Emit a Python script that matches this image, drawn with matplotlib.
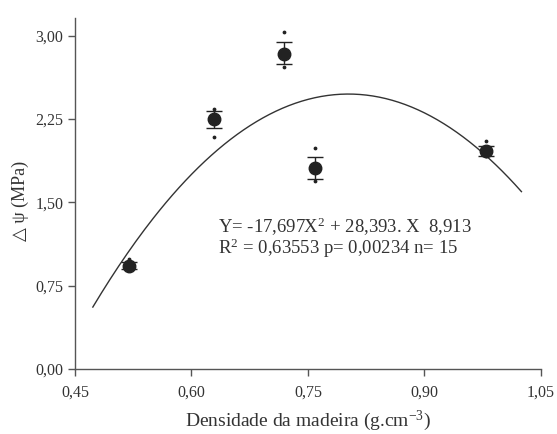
import matplotlib
matplotlib.use("Agg")
import matplotlib.pyplot as plt
import numpy as np

# wood density (g/cm3) and delta psi (MPa)
dens = [0.52, 0.629, 0.719, 0.759, 0.98]
dpsi = [0.93, 2.25, 2.84, 1.81, 1.96]
err_lo = [0.03, 0.08, 0.09, 0.10, 0.04]
err_hi = [0.03, 0.07, 0.10, 0.10, 0.05]
pt_max = [0.99, 2.34, 3.03, 1.99, 2.05]
pt_min = [0.90, 2.09, 2.72, 1.69, 1.92]

# regression Y = a X^2 + b X + c
coef = [-17.697, 28.393, -8.913]
x_range = [0.473, 1.025]

plt.rcParams['font.family'] = ['Liberation Serif', 'DejaVu Sans']
plt.rcParams['mathtext.fontset'] = 'custom'
plt.rcParams['mathtext.rm'] = 'Liberation Serif'
plt.rcParams['mathtext.it'] = 'Liberation Serif:italic'
plt.rcParams['mathtext.bf'] = 'Liberation Serif:bold'
txt = '#333333'
axc = '#555555'

fig = plt.figure(figsize=(5.57, 4.34), dpi=100)
ax = fig.add_axes([0.1346, 0.1498, 0.8364, 0.8087])

xc = np.linspace(x_range[0], x_range[1], 200)
ax.plot(xc, np.polyval(coef, xc), color='#333333', lw=1.0, zorder=2)

ax.errorbar(dens, dpsi, yerr=[err_lo, err_hi], fmt='o', color='#222222',
            ms=9, capsize=5.5, elinewidth=1.0, capthick=1.0, zorder=3)
ax.scatter(dens, pt_max, s=3, color='#222222', zorder=3)
ax.scatter(dens, pt_min, s=3, color='#222222', zorder=3)

ax.text(0.634, 1.28, 'Y= -17,697X$^\\mathrm{2}$ + 28,393. X  8,913', fontsize=13.5,
        color=txt, va='center', ha='left')
ax.text(0.634, 1.085, 'R$^\\mathrm{2}$ = 0,63553 p= 0,00234 n= 15', fontsize=13.5,
        color=txt, va='center', ha='left')

ax.set_xlim(0.45, 1.05)
ax.set_ylim(0, 3.16)
ax.set_xticks([0.45, 0.60, 0.75, 0.90, 1.05])
ax.set_xticklabels(['0,45', '0,60', '0,75', '0,90', '1,05'])
ax.set_yticks([0, 0.75, 1.5, 2.25, 3.0])
ax.set_yticklabels(['0,00', '0,75', '1,50', '2,25', '3,00'])

for s in ['top', 'right']:
    ax.spines[s].set_visible(False)
for s in ['left', 'bottom']:
    ax.spines[s].set_color(axc)
    ax.spines[s].set_linewidth(1.0)
ax.tick_params(colors=axc, labelcolor=txt, labelsize=11.5, length=5, width=1.0)
ax.tick_params(axis='x', pad=6)

ax.set_xlabel('Densidade da madeira (g.cm$^\\mathrm{-3}$)', fontsize=14, color=txt, labelpad=6)
ax.set_ylabel('△ ψ (MPa)', fontsize=13, color=txt, va='center')
ax.yaxis.set_label_coords(-0.118, 0.48)

fig.savefig('out.png', dpi=100)
